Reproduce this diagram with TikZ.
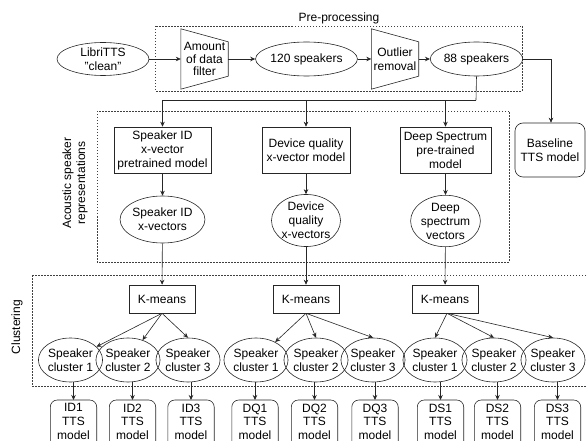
\documentclass[tikz,border=0pt]{standalone}
\usepackage{fontspec}
\setmainfont{Liberation Sans}
\usetikzlibrary{shapes.geometric,arrows.meta,calc}
\begin{document}
\begin{tikzpicture}[x=1pt,y=-1pt,
  every node/.style={font=\fontsize{12}{14}\selectfont, text=black, align=center, inner sep=0pt},
  conn/.style={draw=black!85, line width=0.6pt},
  arr/.style={conn, -{Stealth[length=5pt,width=4.5pt]}},
  grp/.style={draw=black!75, line width=0.6pt, dash pattern=on 1.5pt off 1.5pt},
  ell/.style={ellipse, draw=black!85, line width=0.6pt},
  box/.style={rectangle, draw=black!85, line width=0.6pt},
  rbox/.style={rectangle, draw=black!85, line width=0.6pt, rounded corners=7pt},
  trap/.style={rectangle, minimum width=47pt, minimum height=60pt},
  clus/.style={ell, minimum width=52pt, minimum height=44pt},
  tts/.style={rectangle, minimum width=46pt, minimum height=43pt, anchor=north, font=\fontsize{12}{13.8}\selectfont},
  kbox/.style={box, minimum width=66pt, minimum height=28pt},
  mbox/.style={box, minimum width=93pt, minimum height=46pt}
]
\useasboundingbox (0,0) rectangle (587,441);
\clip (0,0) rectangle (587,441);

% group frames
\draw[grp] (155,26) rectangle (522,91);
\node (lpre) at (339,18) {Pre-processing};
\draw[grp] (97,111) rectangle (509,262);
\node[rotate=90] (lacu) at (75,183) {Acoustic speaker\\representations};
\draw[grp] (32,275) rectangle (600,386);
\node[rotate=90] (lclu) at (17,327) {Clustering};

% pre-processing row
\node[ell, minimum width=92pt, minimum height=33pt] (libri) at (103,59) {LibriTTS\\"clean"};
\node[trap, font=\fontsize{12}{12.5}\selectfont] (filt) at (204.5,59) {Amount\\of data\\filter};
\draw[conn] (filt.north west) -- ($(filt.north east)+(0,13)$) -- ($(filt.south east)+(0,-13)$) -- (filt.south west) -- cycle;
\node[ell, minimum width=93pt, minimum height=34pt] (s120) at (306.5,59) {120 speakers};
\node[trap] (outl) at (395,59) {Outlier\\removal};
\draw[conn] (outl.north west) -- ($(outl.north east)+(0,13)$) -- ($(outl.south east)+(0,-13)$) -- (outl.south west) -- cycle;
\node[ell, minimum width=79pt, minimum height=34pt] (s88) at (476.5,59) {88 speakers};

\draw[arr] (libri.east) -- (filt.west);
\draw[arr] (filt.east) -- (s120.west);
\draw[arr] (s120.east) -- (outl.west);
\draw[arr] (outl.east) -- (s88.west);

% baseline
\node[rbox, minimum width=70pt, minimum height=54pt, rounded corners=8pt] (base) at (550,150) {Baseline\\TTS model};
\coordinate (bturn) at (551,59);
\draw[arr] (s88.east) -- (bturn) -- (base.north -| bturn);

% acoustic representations
\node[mbox, minimum width=97pt] (mid) at (162.5,150) {Speaker ID\\x-vector\\pretrained model};
\node[mbox, minimum width=88pt] (mdq) at (306,150) {Device quality\\x-vector model};
\node[mbox, minimum width=91pt] (mds) at (445.5,150) {Deep Spectrum\\pre-trained\\model};

\coordinate (split) at (476,100);
\draw[conn] (s88.south) -- (split);
\draw[arr] (split) -- (split -| mid.north) -- (mid.north);
\draw[arr] (split -| mdq.north) -- (mdq.north);
\draw[arr] (split -| mds.north) -- (mds.north);

\node[ell, minimum width=73pt, minimum height=47pt] (vid) at (162.5,219.5) {Speaker ID\\x-vectors};
\node[ell, minimum width=69pt, minimum height=50pt] (vdq) at (306,220.5) {Device\\quality\\x-vectors};
\node[ell, minimum width=65pt, minimum height=50pt] (vds) at (445.5,221) {Deep\\spectrum\\vectors};

\draw[arr] (mid) -- (vid);
\draw[arr] (mdq) -- (vdq);
\draw[arr] (mds) -- (vds);

% clustering
\node[kbox] (kid) at (162,299) {K-means};
\node[kbox] (kdq) at (306,299) {K-means};
\node[kbox] (kds) at (445,299) {K-means};
\draw[arr] (vid) -- (kid);
\draw[arr] (vdq) -- (kdq);
\draw[arr] (vds) -- (kds);

\node[clus] (c1) at (70.5,360) {Speaker\\cluster 1};
\node[clus] (c2) at (128,360) {Speaker\\cluster 2};
\node[clus] (c3) at (188,360) {Speaker\\cluster 3};
\node[clus] (c4) at (256,360) {Speaker\\cluster 1};
\node[clus] (c5) at (316,360) {Speaker\\cluster 2};
\node[clus] (c6) at (373,360) {Speaker\\cluster 3};
\node[clus] (c7) at (435,360) {Speaker\\cluster 1};
\node[clus] (c8) at (494,360) {Speaker\\cluster 2};
\node[clus] (c9) at (553,360) {Speaker\\cluster 3};

\draw[arr] (kid.south) -- (c1);
\draw[arr] (kid.south) -- (c2);
\draw[arr] (kid.south) -- (c3.north);
\draw[arr] (kdq.south) -- (c4);
\draw[arr] (kdq.south) -- (c5.north);
\draw[arr] (kdq.south) -- (c6.north);
\draw[arr] ([xshift=2pt]kds.south) -- (c7.north);
\draw[arr] ([xshift=2pt]kds.south) -- (c8.north);
\draw[arr] ([xshift=2pt]kds.south) -- (c9.north);

% TTS models
\node[tts] (t1) at (73.5,400) {ID1\\TTS\\model};
\node[tts] (t2) at (132.5,400) {ID2\\TTS\\model};
\node[tts] (t3) at (191,400) {ID3\\TTS\\model};
\node[tts] (t4) at (255,400) {DQ1\\TTS\\model};
\node[tts] (t5) at (314.5,400) {DQ2\\TTS\\model};
\node[tts] (t6) at (375,400) {DQ3\\TTS\\model};
\node[tts] (t7) at (440.5,400) {DS1\\TTS\\model};
\node[tts] (t8) at (497.5,400) {DS2\\TTS\\model};
\node[tts] (t9) at (557.5,400) {DS3\\TTS\\model};

\foreach \c/\t in {c1/t1,c2/t2,c3/t3,c4/t4,c5/t5,c6/t6,c7/t7,c8/t8,c9/t9}{
  \draw[conn, rounded corners=7pt] (\t.north west) rectangle ($(\t.south east)+(0,12)$);
  \draw[arr] (\t.north |- \c.south) -- (\t.north);
}
\end{tikzpicture}
\end{document}
